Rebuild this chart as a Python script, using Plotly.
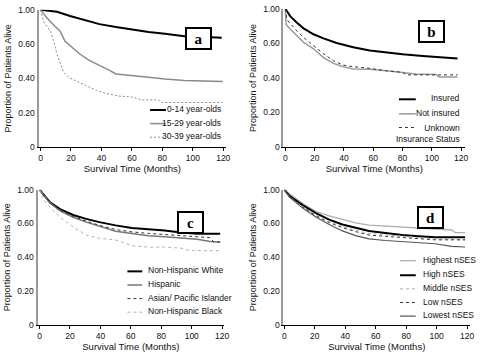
import plotly.graph_objects as go

# ---------------- data (months, proportion alive on the plotted 0-1 scale) ----------------
y_tick_vals = [0, 0.25, 0.5, 0.75, 1.0]
y_tick_text = ["0", "0.20", "0.40", "0.60", "1.00"]
x_tick_vals = [0, 20, 40, 60, 80, 100, 120]

# panel a: age groups
a_014_m = [0, 10.8, 19.4, 30, 38.7, 49.5, 60, 71, 81.7, 94.6, 111.8, 119]
a_014_v = [1.0, 0.986, 0.955, 0.92, 0.896, 0.875, 0.856, 0.839, 0.825, 0.808, 0.80, 0.797]
a_1529_m = [0, 4.3, 8.6, 12.9, 16, 19.4, 25.8, 32, 38.7, 45, 49.5, 60, 71, 81.7, 94.6, 119.6]
a_1529_v = [1.0, 0.94, 0.89, 0.844, 0.773, 0.738, 0.678, 0.631, 0.596, 0.56, 0.532, 0.518, 0.508, 0.496, 0.485, 0.478]
a_3039_m = [0, 2, 6.5, 8.6, 10.8, 12.9, 15, 18.3, 23.7, 30, 36.6, 43, 51.6, 60, 66.7, 77.4, 79.6, 119.6]
a_3039_v = [1.0, 0.915, 0.844, 0.773, 0.678, 0.608, 0.548, 0.508, 0.478, 0.447, 0.414, 0.39, 0.371, 0.364, 0.343, 0.343, 0.324, 0.324]

# panel b: insurance
b_ins_m = [0, 3.4, 7.9, 12.4, 19.2, 26, 35, 46.3, 57.6, 69, 80, 93.8, 107, 117.5]
b_ins_v = [1.0, 0.946, 0.899, 0.859, 0.816, 0.786, 0.753, 0.722, 0.699, 0.682, 0.671, 0.659, 0.649, 0.64]
b_not_m = [0, 0.5, 3.4, 7.9, 12.4, 19.2, 26, 32.8, 39.5, 46.3, 57.6, 69, 80, 89, 102.8, 105, 117.5]
b_not_v = [1.0, 0.887, 0.852, 0.805, 0.758, 0.711, 0.647, 0.605, 0.581, 0.565, 0.562, 0.551, 0.539, 0.529, 0.525, 0.506, 0.506]
b_unk_m = [0, 1, 7.9, 12.4, 19.2, 26, 32.8, 39.5, 46.3, 57.6, 69, 80, 82.5, 117.5]
b_unk_v = [1.0, 0.922, 0.84, 0.793, 0.734, 0.675, 0.624, 0.593, 0.581, 0.569, 0.551, 0.541, 0.522, 0.522]

# panel c: race / ethnicity
c_nhw_m = [0, 7.1, 13.5, 22.1, 30.7, 39.3, 50, 60.7, 71.5, 82.2, 92.9, 103.6, 118.7]
c_nhw_v = [1.0, 0.904, 0.856, 0.813, 0.784, 0.76, 0.736, 0.717, 0.707, 0.698, 0.683, 0.674, 0.674]
c_his_m = [0, 7.1, 13.5, 22.1, 30.7, 39.3, 50, 60.7, 71.5, 82.2, 92.9, 103.6, 112.2, 118.7]
c_his_v = [1.0, 0.9, 0.844, 0.796, 0.76, 0.729, 0.693, 0.676, 0.659, 0.652, 0.64, 0.633, 0.616, 0.612]
c_api_m = [0, 7.1, 13.5, 22.1, 30.7, 39.3, 50, 60.7, 71.5, 82.2, 92.9, 103.6, 112.2, 114.3, 118.7]
c_api_v = [1.0, 0.905, 0.85, 0.803, 0.768, 0.736, 0.705, 0.688, 0.677, 0.669, 0.66, 0.648, 0.645, 0.614, 0.614]
c_nhb_m = [0, 2.8, 7.1, 13.5, 22.1, 30.7, 39.3, 50, 56.4, 60.7, 71.5, 82.2, 92.9, 99, 118.7]
c_nhb_v = [1.0, 0.928, 0.868, 0.796, 0.724, 0.664, 0.64, 0.628, 0.604, 0.585, 0.575, 0.575, 0.568, 0.549, 0.549]

# panel d: neighbourhood SES
d_hst_m = [0, 3.3, 12, 20.7, 29.4, 38.1, 46.8, 55.6, 66.4, 77.3, 88.2, 99.1, 110, 112.2, 118.7]
d_hst_v = [1.0, 0.969, 0.898, 0.838, 0.807, 0.779, 0.755, 0.738, 0.731, 0.724, 0.712, 0.707, 0.702, 0.683, 0.683]
d_hi_m = [0, 3.3, 12, 20.7, 29.4, 38.1, 46.8, 55.6, 66.4, 77.3, 88.2, 99.1, 118.7]
d_hi_v = [1.0, 0.955, 0.886, 0.826, 0.779, 0.743, 0.719, 0.695, 0.679, 0.664, 0.655, 0.648, 0.648]
d_mid_m = [0, 3.3, 12, 20.7, 29.4, 38.1, 46.8, 55.6, 66.4, 77.3, 88.2, 99.1, 118.7]
d_mid_v = [1.0, 0.95, 0.876, 0.814, 0.765, 0.726, 0.7, 0.676, 0.666, 0.655, 0.645, 0.636, 0.629]
d_low_m = [0, 3.3, 12, 20.7, 29.4, 38.1, 46.8, 55.6, 66.4, 77.3, 88.2, 99.1, 118.7]
d_low_v = [1.0, 0.948, 0.872, 0.807, 0.757, 0.719, 0.69, 0.664, 0.655, 0.648, 0.638, 0.629, 0.629]
d_lst_m = [0, 3.3, 12, 20.7, 29.4, 38.1, 46.8, 55.6, 66.4, 77.3, 88.2, 99.1, 110, 118.7]
d_lst_v = [1.0, 0.945, 0.864, 0.798, 0.743, 0.695, 0.66, 0.636, 0.624, 0.617, 0.607, 0.6, 0.581, 0.576]

# ---------------- styles ----------------
BLACK = dict(color="#000000", width=2, dash="solid")
GRAY = dict(color="#8a8a8a", width=1.5, dash="solid")
DASH_DARK = dict(color="#333333", width=1, dash="3px,3px")
DASH_GRAY = dict(color="#8a8a8a", width=1, dash="2px,2px")
DASH_LIGHT = dict(color="#b0b0b0", width=1, dash="3px,3px")
LIGHT = dict(color="#b0b0b0", width=1.3, dash="solid")
DARKGRAY = dict(color="#555555", width=1.2, dash="solid")

W, H = 480, 359
def px(x):
    return x / W
def py(y):
    return 1 - y / H

panels = [
    dict(ax="", dom_x=(38, 228), dom_y=(5, 146), xr=(-1.3, 121.9),
         series=[("0-14 year-olds", a_014_m, a_014_v, BLACK),
                 ("15-29 year-olds", a_1529_m, a_1529_v, GRAY),
                 ("30-39 year-olds", a_3039_m, a_3039_v, DASH_GRAY)],
         letter="a", box=(199.5, 34),
         leg=dict(x0=151, x1=167, ys=[108, 122, 136], tx=225, anchor="right")),
    dict(ax="2", dom_x=(286, 470), dom_y=(4, 146), xr=(-1.35, 122.7),
         series=[("Insured", b_ins_m, b_ins_v, BLACK),
                 ("Not insured", b_not_m, b_not_v, dict(GRAY, color="#9a9a9a")),
                 ("Unknown<br>Insurance Status", b_unk_m, b_unk_v, DASH_DARK)],
         letter="b", box=(436, 27),
         leg=dict(x0=403, x1=420, ys=[97, 112, 126], tx=467, anchor="right")),
    dict(ax="3", dom_x=(37, 226), dom_y=(190, 329), xr=(-1.3, 121.3),
         series=[("Non-Hispanic White", c_nhw_m, c_nhw_v, BLACK),
                 ("Hispanic", c_his_m, c_his_v, dict(GRAY, color="#777777")),
                 ("Asian/ Pacific Islander", c_api_m, c_api_v, DASH_DARK),
                 ("Non-Hispanic Black", c_nhb_m, c_nhb_v, DASH_LIGHT)],
         letter="c", box=(191.5, 223.5),
         leg=dict(x0=128, x1=143, ys=[274, 288, 302, 316], tx=147, anchor="left")),
    dict(ax="4", dom_x=(286, 475), dom_y=(190, 329), xr=(-0.65, 122),
         series=[("Highest nSES", d_hst_m, d_hst_v, LIGHT),
                 ("High nSES", d_hi_m, d_hi_v, BLACK),
                 ("Middle nSES", d_mid_m, d_mid_v, DASH_LIGHT),
                 ("Low nSES", d_low_m, d_low_v, DASH_DARK),
                 ("Lowest nSES", d_lst_m, d_lst_v, DARKGRAY)],
         letter="d", box=(435, 218.5),
         leg=dict(x0=404, x1=420, ys=[263, 278, 292, 306, 320], tx=425, anchor="left")),
]

FONT = "Arial, Liberation Sans, sans-serif"
fig = go.Figure()
shapes = []
annotations = []
layout_axes = {}

for p in panels:
    ax = p["ax"]
    xa, ya = "x" + ax, "y" + ax
    for name, m, v, st in p["series"]:
        fig.add_trace(go.Scatter(x=m, y=v, mode="lines", name=name.replace("<br>", " "),
                                 line=dict(color=st["color"], width=st["width"], dash=st["dash"]),
                                 xaxis=xa, yaxis=ya, showlegend=False, hoverinfo="skip"))
    layout_axes["xaxis" + ax] = dict(
        domain=[px(p["dom_x"][0]), px(p["dom_x"][1])], anchor=ya, range=list(p["xr"]),
        tickvals=x_tick_vals, ticks="outside", ticklen=3, tickcolor="#000", tickwidth=1,
        showline=True, linecolor="#000", linewidth=1, showgrid=False, zeroline=False,
        tickfont=dict(family=FONT, size=8.5, color="#111"),
        title=dict(text="Survival Time (Months)", font=dict(family=FONT, size=9.5, color="#111"), standoff=2),
    )
    layout_axes["yaxis" + ax] = dict(
        domain=[py(p["dom_y"][1]), py(p["dom_y"][0])], anchor=xa, range=[0, 1.0],
        tickvals=y_tick_vals, ticktext=y_tick_text, ticks="", showline=True,
        linecolor="#9a9a9a", linewidth=2, showgrid=False, zeroline=False,
        tickfont=dict(family=FONT, size=8.5, color="#111"),
        title=dict(text="Proportion of Patients Alive", font=dict(family=FONT, size=9, color="#111"), standoff=5),
    )
    bx, by = p["box"]
    annotations.append(dict(xref="paper", yref="paper", x=px(bx), y=py(by), text="<b>%s</b>" % p["letter"],
                            showarrow=False, font=dict(family="Times New Roman, Liberation Serif, serif", size=15, color="#000"),
                            bgcolor="#ffffff", bordercolor="#000", borderwidth=2, borderpad=0,
                            width=23, height=19, xanchor="center", yanchor="middle"))
    lg = p["leg"]
    for (name, m, v, st), yy in zip(p["series"], lg["ys"]):
        shapes.append(dict(type="line", xref="paper", yref="paper", x0=px(lg["x0"]), x1=px(lg["x1"]),
                           y0=py(yy), y1=py(yy),
                           line=dict(color=st["color"], width=st["width"], dash=st["dash"])))
        multi = "<br>" in name
        annotations.append(dict(xref="paper", yref="paper", x=px(lg["tx"]),
                                y=py(yy - 1) if not multi else py(119),
                                text=name, showarrow=False, align=lg["anchor"],
                                xanchor=lg["anchor"], yanchor="middle" if not multi else "top",
                                font=dict(family=FONT, size=8.5, color="#111")))

fig.update_layout(
    width=W, height=H, margin=dict(l=0, r=0, t=0, b=0),
    paper_bgcolor="#ffffff", plot_bgcolor="#ffffff",
    showlegend=False, shapes=shapes, annotations=annotations,
    **layout_axes,
)

fig.write_html("out.html", config={"displayModeBar": False},
               post_script="document.body.style.margin='0';document.body.style.overflow='hidden';")
